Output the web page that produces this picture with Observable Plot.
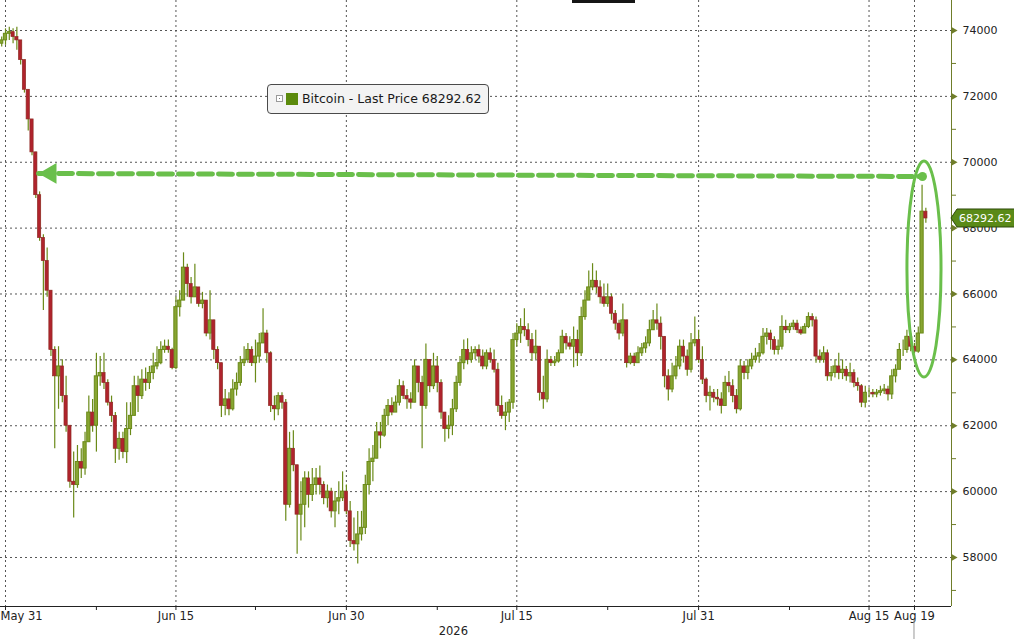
<!DOCTYPE html>
<html><head><meta charset="utf-8">
<script src="https://cdn.jsdelivr.net/npm/d3@7"></script>
<script src="https://cdn.jsdelivr.net/npm/@observablehq/plot@0.6"></script>
<style>
html,body{margin:0;padding:0;background:#fff;}
#wrap{position:relative;width:1014px;height:639px;overflow:hidden;background:#fff;}
#wrap svg{position:absolute;left:0;top:0;}
.legend{position:absolute;left:267px;top:84px;width:222px;height:30px;box-sizing:border-box;border:1px solid #4a4a4a;border-radius:4px;background:#f3f3f3;font-family:"DejaVu Sans",sans-serif;font-size:12.5px;color:#1a1a1a;}
.legend .ic{position:absolute;left:8px;top:10px;width:5px;height:5px;border:1px solid #9a9a9a;background:#fff;}
.legend .ic i{position:absolute;left:2px;top:2px;width:1px;height:1px;background:#777;}
.legend .sw{position:absolute;left:18px;top:8px;width:12px;height:12px;background:#5b8a0c;}
.legend .tx{position:absolute;left:34px;top:6px;white-space:nowrap;}
.topbar{position:absolute;left:572px;top:0;width:63px;height:3px;background:#151515;}
</style></head><body><div id="wrap"></div>
<script>
// ---- data: 8-hour candles starting May 30 2026 12:00 UTC ----
const seriesStart = Date.UTC(2026, 4, 30, 12);
const candleHours = 8;
const firstOpen = 73600;
const closes = [
73700,73900,73950,73800,73700,73100,72200,71300,70300,69000,
67700,67000,66100,64300,63500,63800,62900,62000,60300,60200,
60900,60700,61500,62400,62000,63500,63600,63300,62700,62300,
61300,61600,61200,61900,62300,63200,62900,63400,63300,63600,
63800,63900,64300,64400,64300,63750,65600,65800,66800,66300,
65900,66200,65700,65800,64800,65200,64300,63900,62600,62800,
62500,63100,63300,63900,64000,64300,63900,64100,64500,64800,
64200,62600,62500,62900,62700,59600,61300,60800,59300,59600,
60400,59900,60200,60400,60200,59800,60000,59400,59700,59800,
60000,59400,58500,58400,58700,58900,60200,60900,61000,61800,
61700,62300,62600,62400,62700,63200,62900,62800,62700,63800,
63300,62600,64000,63200,63800,63300,62400,61900,62000,62500,
63300,63900,64300,64000,64200,64300,64100,63800,64200,64000,
63700,62600,62300,62400,62700,64600,64800,65000,64900,64600,
64200,64400,63000,62800,64000,63900,63950,64200,64700,64500,
64400,64600,64200,65300,65800,66200,66400,66200,65900,65700,
65900,65400,65100,64800,65200,63900,64100,63900,64200,64350,
64500,64900,65200,65100,64700,63500,63100,63500,63800,64400,
64100,63700,64500,64600,64000,63400,62900,63000,62850,62800,
62600,63300,63200,62900,62500,63800,63600,63800,64000,64100,
64200,64700,64800,64600,64300,64400,65000,64900,65000,65100,
64900,64800,65000,65300,65200,64100,64000,64200,63500,63600,
63800,63600,63700,63500,63600,63300,63200,62700,63000,63000,
62950,63000,63050,63100,62950,63500,63700,64300,64300,64700,
64400,64250,64800,68500,68292.62];
const highs = [
73800,74050,74100,74050,74100,73700,73100,72200,71300,70300,
69100,67800,67400,66100,64400,64400,64000,63500,62000,61200,
61400,61300,61800,62900,62800,64200,64100,64200,63400,62900,
62400,61800,61800,62700,62700,63500,63500,63700,63750,63800,
64200,64400,64550,64600,64600,64350,65900,66100,67250,66900,
66500,66900,66200,66050,65800,66100,65200,64400,63900,63100,
63000,63400,63600,64100,64400,64500,64400,64600,64800,65550,
64900,64250,62900,63000,63000,62800,61800,61850,60800,60300,
60600,60600,60700,60700,60780,60300,60200,60100,60000,60300,
60600,60200,59700,59200,59400,59400,60500,61300,61400,62100,
62100,62500,62800,62850,62900,63400,63350,63100,63000,64000,
63800,63500,64480,64000,64200,64100,63400,62400,62300,62800,
63500,64100,64600,64640,64400,64400,64450,64300,64300,64350,
64300,63900,62900,62700,62800,64800,65100,65250,65550,65100,
64800,64900,64400,63500,64300,64100,64100,64300,64900,64800,
64700,65000,64900,65600,66100,66700,66920,66700,66400,66300,
66300,66000,65500,65200,65700,65200,64200,64200,64400,64500,
64700,65200,65500,65700,65300,64700,63700,63900,64100,64600,
64600,64300,64800,65300,64900,64400,63450,63200,63100,63100,
63000,63500,63650,63400,63100,64000,63950,64000,64200,64350,
64500,64950,64950,64900,64700,64600,65340,65200,65100,65200,
65200,65000,65100,65430,65400,65300,64300,64400,64300,63800,
64000,64200,64000,63800,63900,63700,63450,63250,63200,63150,
63100,63100,63200,63250,63200,63700,63850,64500,64600,64900,
64800,64500,65000,69300,68600];
const lows = [
73500,73550,73700,73600,73400,72950,72100,70950,70200,68900,
67600,65500,65900,64100,61300,62500,62700,61800,60100,59200,
60100,60400,60500,61500,61800,61200,63200,63100,62600,62100,
60850,60950,61000,60850,61700,62300,62400,62800,63050,63100,
63400,63700,63850,64200,64200,63700,63700,65300,65800,65900,
65700,65900,65600,65550,64700,64600,64000,63700,62250,62300,
62300,62450,62900,63200,63800,63900,63800,63300,63900,64500,
63900,62400,62150,62300,62500,59100,59500,60600,58100,58500,
58900,59500,59700,59900,59900,59600,59500,59200,58900,59300,
59700,59300,58300,58200,57800,58500,58700,59900,60300,61000,
61300,61650,62000,62300,62400,62600,62800,62500,62500,62700,
63000,61300,62500,63000,63100,63000,62200,61500,61600,61700,
62400,63200,63700,63850,63900,64000,63900,63700,63700,63900,
63600,62400,62200,61850,62100,62500,64400,64500,64700,64400,
63950,64000,62750,62500,62700,63800,63800,63900,64200,64300,
64300,63760,63800,64100,65200,65800,66100,66000,65700,65600,
65600,65200,64900,64600,64700,63750,63850,63800,63900,64100,
64200,64400,64900,64900,64300,63150,62750,63000,63400,63700,
63900,63500,63600,64400,63900,63250,62700,62450,62700,62600,
62360,62600,63000,62700,62360,62450,63400,63400,63700,63900,
63900,64150,64450,64300,64150,64150,64300,64800,64800,64900,
64800,64750,64800,64950,65000,63900,63900,63900,63350,63350,
63450,63400,63400,63350,63300,63150,63050,62550,62540,62850,
62850,62850,62900,62950,62750,62800,63300,63700,64100,64200,
64250,64180,64200,64800,68150];

const lastPrice = 68292.62;
const legendText = "Bitcoin - Last Price 68292.62";
const yMajor = [58000,60000,62000,64000,66000,68000,70000,72000,74000];
const yMinor = [57000,59000,61000,63000,65000,67000,69000,71000,73000];
const xMajor = ["2026-05-31","2026-06-15","2026-06-30","2026-07-15","2026-07-31","2026-08-15","2026-08-19"];
const xMinor = ["2026-06-08","2026-06-22","2026-07-08","2026-07-23","2026-08-08"];
const yearLabel = [{date: "2026-07-09T10:00Z", text: "2026"}];
const xDomain = ["2026-05-30T13:26Z", "2026-08-22T06:10Z"];
const yDomain = [56512, 74911];
const arrowPts = [{date: "2026-06-02T21:40Z", price: 69659}, {date: "2026-08-19T16:50Z", price: 69567}];
const ring = {date: "2026-08-19T21:06Z", price: 66744, halfDays: 1.5, halfPrice: 3280};

// ---- build table ----
const H = 3600e3;
const candles = closes.map((c, i) => {
  const t = seriesStart + i * candleHours * H;
  const o = i === 0 ? firstOpen : closes[i - 1];
  return {mid: new Date(t + 4 * H), b1: new Date(t + 0.6 * H), b2: new Date(t + 7.4 * H),
          open: o, close: c, high: highs[i], low: lows[i], up: c >= o};
});
const ups = candles.filter(d => d.up), downs = candles.filter(d => !d.up);
const pd = s => new Date(s);
const xEnd = pd(xDomain[1]);
const fmt = d3.utcFormat("%b %d");
const olive = "#6a8a18", upFill = "#88a532", red = "#b0232d", green = "#6abf4b", axisOlive = "#6f7d2a", grid = "#555";

const plot = Plot.plot({
  width: 1014, height: 639,
  marginLeft: 0, marginRight: 63, marginTop: 0, marginBottom: 33,
  x: {type: "utc", domain: xDomain.map(pd), axis: null},
  y: {domain: yDomain, axis: null},
  style: {fontFamily: "DejaVu Sans, sans-serif", fontSize: "11px", background: "#fff", overflow: "visible"},
  marks: [
    Plot.ruleY(yMajor, {y: d => d, stroke: grid, strokeDasharray: "2,3"}),
    Plot.ruleX(xMajor, {x: pd, stroke: grid, strokeDasharray: "2,3"}),
    Plot.ruleX(candles, {x: "mid", y1: "low", y2: "high", stroke: olive, strokeWidth: 1.2}),
    Plot.rect(ups, {x1: "b1", x2: "b2", y1: "open", y2: "close", fill: upFill, stroke: olive, strokeWidth: 1}),
    Plot.rect(downs, {x1: "b1", x2: "b2", y1: "open", y2: "close", fill: red, stroke: "#8e2a22", strokeWidth: 0.7}),
    // annotation: dashed arrow
    Plot.line(arrowPts, {x: d => pd(d.date), y: "price", stroke: green, strokeWidth: 5, strokeDasharray: "14,6"}),
    Plot.dot(arrowPts.slice(0, 1), {x: d => pd(d.date), y: "price", symbol: "triangle", rotate: -90, r: 7.7, fill: green, dx: 12}),
    Plot.dot(arrowPts.slice(1), {x: d => pd(d.date), y: "price", r: 4.5, fill: green}),
    // bottom axis
    Plot.ruleY([yDomain[0]], {y: d => d, stroke: "#222"}),
    Plot.ruleX([...xMajor, ...xMinor], {x: pd, y1: yDomain[0], y2: yDomain[0], insetBottom: -4, stroke: "#222"}),
    Plot.text(xMajor.slice(0, 1), {x: pd, text: d => fmt(pd(d)), frameAnchor: "bottom", lineAnchor: "top", textAnchor: "start", dx: -5, dy: 5, fontSize: 11.5, fill: "#222"}),
    Plot.text(xMajor.slice(1), {x: pd, text: d => fmt(pd(d)), frameAnchor: "bottom", lineAnchor: "top", dy: 5, fontSize: 11.5, fill: "#222"}),
    Plot.text(yearLabel, {x: d => pd(d.date), text: "text", frameAnchor: "bottom", lineAnchor: "top", dy: 20, fontSize: 11.5, fill: "#222"}),
    // right axis
    Plot.ruleX([xEnd], {x: d => d, stroke: axisOlive}),
    Plot.ruleY(yMinor, {y: d => d, x1: () => xEnd, x2: () => xEnd, insetRight: -5, stroke: axisOlive}),
    Plot.dot(yMajor, {y: d => d, frameAnchor: "right", symbol: "triangle", rotate: 90, r: 2.6, fill: axisOlive, dx: 2}),
    Plot.text(yMajor, {y: d => d, frameAnchor: "right", text: d => String(d), textAnchor: "start", dx: 11, fontSize: 11, fill: "#222"})
  ]
});

const wrap = document.getElementById("wrap");
wrap.appendChild(plot);

// overlays positioned through the plot's scales
const sx = plot.scale("x"), sy = plot.scale("y");
const svg = d3.select(plot);
const cx = sx.apply(pd(ring.date)), cy = sy.apply(ring.price);
const rx = sx.apply(new Date(+pd(ring.date) + ring.halfDays * 24 * H)) - cx;
const ry = sy.apply(ring.price - ring.halfPrice) - cy;
svg.append("ellipse").attr("cx", cx).attr("cy", cy).attr("rx", rx).attr("ry", ry)
  .attr("fill", "none").attr("stroke", green).attr("stroke-width", 3);

// last price tag
const ty = sy.apply(lastPrice), tx = sx.apply(xEnd);
const tag = svg.append("g");
tag.append("path").attr("d", `M${tx},${ty} L${tx + 6},${ty - 9} L${tx + 70},${ty - 9} L${tx + 70},${ty + 9} L${tx + 6},${ty + 9} Z`)
  .attr("fill", "#5a8a18").attr("stroke", "#2e4a0a").attr("stroke-width", 1);
tag.append("text").attr("x", tx + 8).attr("y", ty).attr("dy", "0.35em").attr("fill", "#fff")
  .attr("text-anchor", "start").attr("font-size", 11).attr("font-family", "DejaVu Sans, sans-serif").text(lastPrice.toFixed(2));

// cursor line under Aug 19 label
const cxl = sx.apply(pd(xMajor[xMajor.length - 1]));
svg.append("line").attr("x1", cxl).attr("x2", cxl).attr("y1", 620).attr("y2", 639).attr("stroke", "#999");

// legend
const lg = document.createElement("div");
lg.className = "legend";
lg.innerHTML = `<span class="ic"><i></i></span><span class="sw"></span><span class="tx"></span>`;
lg.querySelector(".tx").textContent = legendText;
wrap.appendChild(lg);
const tb = document.createElement("div"); tb.className = "topbar"; wrap.appendChild(tb);
</script></body></html>
